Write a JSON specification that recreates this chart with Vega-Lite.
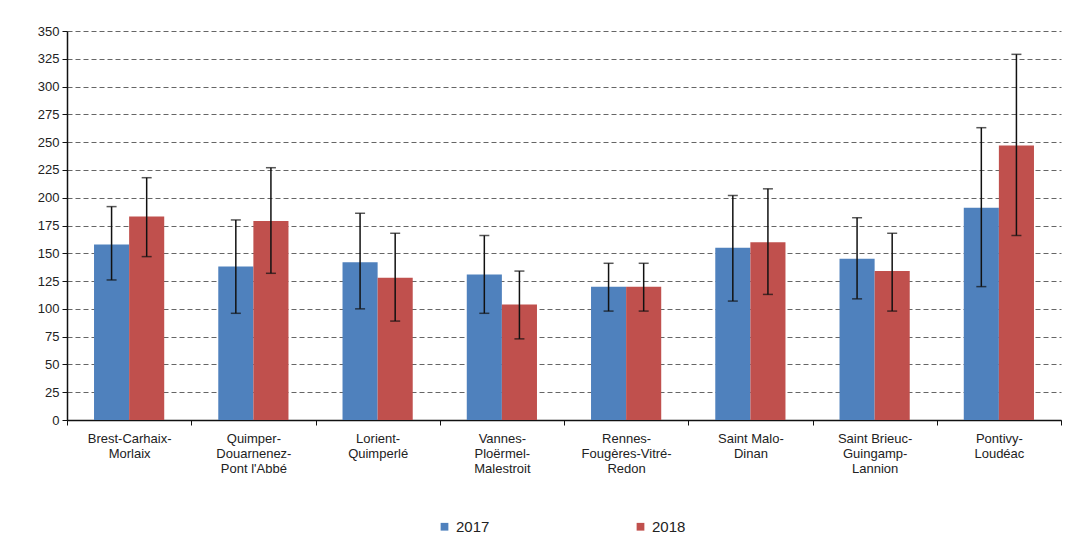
{
  "$schema": "https://vega.github.io/schema/vega-lite/v6.json",
  "width": 994,
  "height": 389,
  "autosize": {"type": "none"},
  "padding": {"left": 67, "top": 31, "right": 19, "bottom": 124},
  "background": "white",
  "config": {
    "view": {"stroke": null},
    "font": "Liberation Sans",
    "axis": {"labelFont": "Liberation Sans", "labelColor": "#222", "labelFontSize": 13}
  },
  "data": {
    "values": [
      {"region": "Brest-Carhaix-|Morlaix", "year": "2017", "value": 158, "lo": 126, "hi": 192},
      {"region": "Brest-Carhaix-|Morlaix", "year": "2018", "value": 183, "lo": 147, "hi": 218},
      {"region": "Quimper-|Douarnenez-|Pont l'Abbé", "year": "2017", "value": 138, "lo": 96, "hi": 180},
      {"region": "Quimper-|Douarnenez-|Pont l'Abbé", "year": "2018", "value": 179, "lo": 132, "hi": 227},
      {"region": "Lorient-|Quimperlé", "year": "2017", "value": 142, "lo": 100, "hi": 186},
      {"region": "Lorient-|Quimperlé", "year": "2018", "value": 128, "lo": 89, "hi": 168},
      {"region": "Vannes-|Ploërmel-|Malestroit", "year": "2017", "value": 131, "lo": 96, "hi": 166},
      {"region": "Vannes-|Ploërmel-|Malestroit", "year": "2018", "value": 104, "lo": 73, "hi": 134},
      {"region": "Rennes-|Fougères-Vitré-|Redon", "year": "2017", "value": 120, "lo": 98, "hi": 141},
      {"region": "Rennes-|Fougères-Vitré-|Redon", "year": "2018", "value": 120, "lo": 98, "hi": 141},
      {"region": "Saint Malo-|Dinan", "year": "2017", "value": 155, "lo": 107, "hi": 202},
      {"region": "Saint Malo-|Dinan", "year": "2018", "value": 160, "lo": 113, "hi": 208},
      {"region": "Saint Brieuc-|Guingamp-|Lannion", "year": "2017", "value": 145, "lo": 109, "hi": 182},
      {"region": "Saint Brieuc-|Guingamp-|Lannion", "year": "2018", "value": 134, "lo": 98, "hi": 168},
      {"region": "Pontivy-|Loudéac", "year": "2017", "value": 191, "lo": 120, "hi": 263},
      {"region": "Pontivy-|Loudéac", "year": "2018", "value": 247, "lo": 166, "hi": 329}
    ]
  },
  "encoding": {
    "x": {
      "field": "region", "type": "nominal", "sort": null,
      "scale": {"paddingInner": 0, "paddingOuter": 0},
      "axis": {
        "title": null, "labelAngle": 0, "labelExpr": "split(datum.label, '|')",
        "labelLineHeight": 15, "labelPadding": 7, "labelBaseline": "top",
        "tickBand": "extent", "ticks": true, "tickSize": 5, "tickColor": "#111",
        "domainColor": "#111", "domainWidth": 1.5, "grid": false
      }
    },
    "xOffset": {"field": "year", "type": "nominal", "scale": {"paddingOuter": 0.77, "paddingInner": 0}}
  },
  "layer": [
    {
      "mark": {"type": "bar"},
      "encoding": {
        "y": {
          "field": "value", "type": "quantitative",
          "scale": {"domain": [0, 350], "nice": false},
          "axis": {
            "title": null, "values": [0,25,50,75,100,125,150,175,200,225,250,275,300,325,350],
            "labelOverlap": false,
            "grid": true, "gridDash": [5, 3], "gridColor": "#666", "gridWidth": 1,
            "domainColor": "#111", "domainWidth": 1.5, "tickColor": "#111", "tickSize": 5,
            "labelPadding": 3
          }
        },
        "color": {
          "field": "year", "type": "nominal",
          "scale": {"domain": ["2017", "2018"], "range": ["#4F81BD", "#C0504D"]},
          "legend": {
            "title": null, "orient": "none", "direction": "horizontal",
            "legendX": 370, "legendY": 488, "symbolType": "square", "symbolSize": 60,
            "symbolStrokeWidth": 0, "labelFontSize": 15, "labelColor": "#222",
            "columnPadding": 143, "labelOffset": 4
          }
        }
      }
    },
    {
      "mark": {"type": "rule", "color": "#111", "strokeWidth": 1.5},
      "encoding": {
        "y": {
          "field": "lo", "type": "quantitative",
          "axis": {
            "title": null, "values": [0,25,50,75,100,125,150,175,200,225,250,275,300,325,350],
            "labelOverlap": false,
            "grid": true, "gridDash": [5, 3], "gridColor": "#666", "gridWidth": 1,
            "domainColor": "#111", "domainWidth": 1.5, "tickColor": "#111", "tickSize": 5,
            "labelPadding": 3
          }
        },
        "y2": {"field": "hi"}
      }
    },
    {
      "mark": {"type": "tick", "color": "#111", "thickness": 1.5, "size": 10},
      "encoding": {
        "y": {
          "field": "hi", "type": "quantitative",
          "axis": {
            "title": null, "values": [0,25,50,75,100,125,150,175,200,225,250,275,300,325,350],
            "labelOverlap": false,
            "grid": true, "gridDash": [5, 3], "gridColor": "#666", "gridWidth": 1,
            "domainColor": "#111", "domainWidth": 1.5, "tickColor": "#111", "tickSize": 5,
            "labelPadding": 3
          }
        }
      }
    },
    {
      "mark": {"type": "tick", "color": "#111", "thickness": 1.5, "size": 10},
      "encoding": {
        "y": {
          "field": "lo", "type": "quantitative",
          "axis": {
            "title": null, "values": [0,25,50,75,100,125,150,175,200,225,250,275,300,325,350],
            "labelOverlap": false,
            "grid": true, "gridDash": [5, 3], "gridColor": "#666", "gridWidth": 1,
            "domainColor": "#111", "domainWidth": 1.5, "tickColor": "#111", "tickSize": 5,
            "labelPadding": 3
          }
        }
      }
    }
  ]
}
